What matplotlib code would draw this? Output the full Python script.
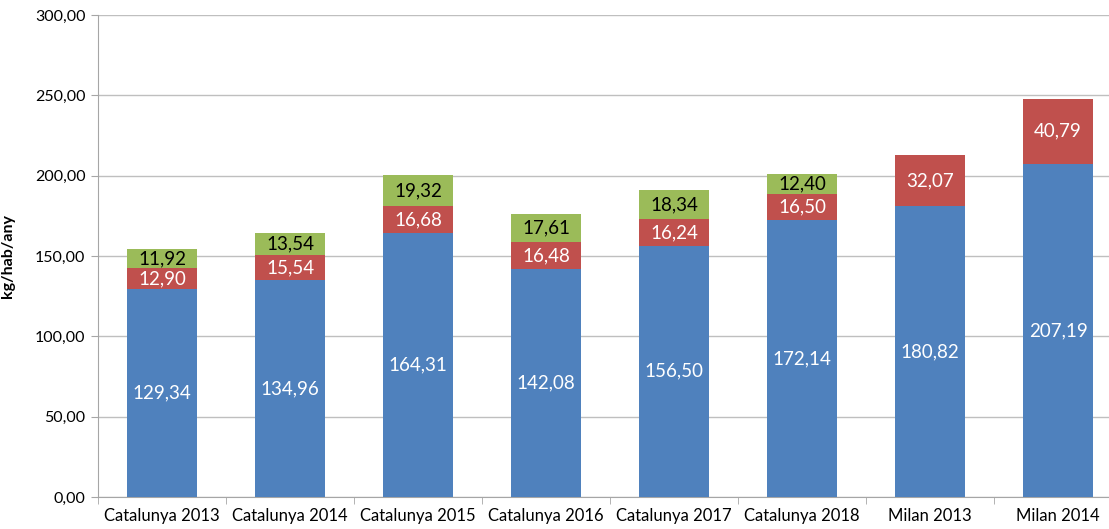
import matplotlib.pyplot as plt
import numpy as np

categories = ['Catalunya 2013', 'Catalunya 2014', 'Catalunya 2015', 'Catalunya 2016',
              'Catalunya 2017', 'Catalunya 2018', 'Milan 2013', 'Milan 2014']
blue_vals = [129.34, 134.96, 164.31, 142.08, 156.50, 172.14, 180.82, 207.19]
red_vals = [12.90, 15.54, 16.68, 16.48, 16.24, 16.50, 32.07, 40.79]
green_vals = [11.92, 13.54, 19.32, 17.61, 18.34, 12.40, 0, 0]
y_ticks = [0, 50, 100, 150, 200, 250, 300]

BLUE = '#4F81BD'
RED = '#C0504D'
GREEN = '#9BBB59'


def fmt(v):
    return ('%.2f' % v).replace('.', ',')


plt.rcParams['font.family'] = ['Lato', 'DejaVu Sans']

fig = plt.figure(figsize=(11.09, 5.29), dpi=100)
# the original is cropped on the right, so the axes runs a bit past the figure edge
ax = fig.add_axes([98 / 1109, 1 - 497 / 529, 1024 / 1109, 482 / 529])

x = np.arange(len(categories))
w = 0.55
blue = np.array(blue_vals)
red = np.array(red_vals)
green = np.array(green_vals)

ax.bar(x, blue, w, color=BLUE, zorder=3)
ax.bar(x, red, w, bottom=blue, color=RED, zorder=3)
ax.bar(x, green, w, bottom=blue + red, color=GREEN, zorder=3)

for i in range(len(categories)):
    ax.text(x[i], blue[i] / 2, fmt(blue[i]), ha='center', va='center',
            color='white', fontsize=13.5, zorder=4)
    ax.text(x[i], blue[i] + red[i] / 2, fmt(red[i]), ha='center', va='center',
            color='white', fontsize=13.5, zorder=4)
    if green[i] > 0:
        ax.text(x[i], blue[i] + red[i] + green[i] / 2, fmt(green[i]), ha='center',
                va='center', color='black', fontsize=13.5, zorder=4)

ax.set_xlim(-0.5, len(categories) - 0.5)
ax.set_ylim(0, 300)
ax.set_yticks(y_ticks)
ax.set_yticklabels([fmt(v) for v in y_ticks], fontsize=11.5)
ax.set_xticks(x)
ax.set_xticklabels(categories, fontsize=12)
ax.tick_params(axis='x', length=0, pad=8)
ax.set_xticks(np.arange(-0.5, len(categories)), minor=True)
ax.tick_params(axis='x', which='minor', length=5, color='#a6a6a6')
ax.tick_params(axis='y', length=5, color='#a6a6a6', pad=4)

ax.yaxis.grid(True, color='#bfbfbf', linewidth=1.0, zorder=0)
ax.set_axisbelow(True)
for s in ['top', 'right']:
    ax.spines[s].set_visible(False)
ax.spines['left'].set_color('#a6a6a6')
ax.spines['bottom'].set_color('#a6a6a6')

ax.set_ylabel('kg/hab/any', fontsize=11.5, fontweight='bold', labelpad=14)

fig.savefig('out.png', dpi=100)
